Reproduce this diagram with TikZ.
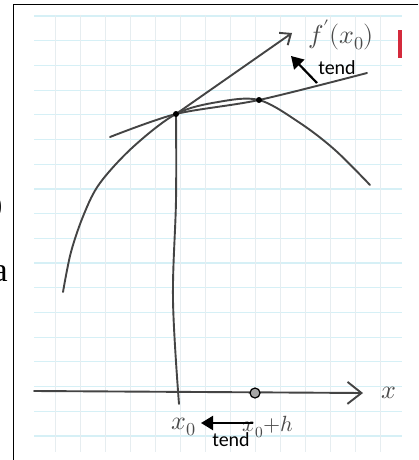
\documentclass[tikz,border=0pt]{standalone}
\usepackage{fontspec}
\usepackage{unicode-math}
\setmainfont{Liberation Serif}
\newfontfamily\tendfont{Carlito}
\usetikzlibrary{arrows.meta}
\definecolor{penc}{HTML}{444444}
\definecolor{handc}{HTML}{4A4A4A}
\definecolor{hgridc}{HTML}{D6F0F6}
\definecolor{vgridc}{HTML}{E6EDF0}
\definecolor{redmark}{HTML}{D42A3C}
\begin{document}
\begin{tikzpicture}[x=1pt,y=-1pt,
  pen/.style={draw=penc,line width=1.9pt,line cap=round,line join=round},
  hgrid/.style={draw=hgridc,line width=1.2pt},
  vgrid/.style={draw=vgridc,line width=1pt},
  hand/.style={text=handc,inner sep=0pt,font=\fontsize{26}{28}\selectfont},
  tendlbl/.style={inner sep=0pt,font=\tendfont\fontsize{20}{22}\selectfont},
  tendarrow/.style={draw=black,line width=2.2pt,-{Triangle[length=12pt,width=14pt]}},
  dot/.style={circle,fill=black,inner sep=0pt,minimum size=6pt}]
\useasboundingbox (0,0) rectangle (418,460);
\fill[white] (0,0) rectangle (418,460);
% grid paper
\foreach \i in {0,...,17} {\draw[hgrid] (34,{16+24.7*\i}) -- (402,{16+24.7*\i});}
\foreach \i in {0,...,13} {\draw[vgrid] ({55+25*\i},15) -- ({55+25*\i},452);}
% frame
\draw[black,line width=1.6pt] (13.5,4.5) -- (418,4.5);
\draw[black,line width=1.6pt] (13.5,4.5) -- (13.5,460);
% red mark at right edge
\fill[redmark] (398,30) rectangle (402,58);
% cut-off text fragments at the left
\node[anchor=east,inner sep=0pt,font=\fontsize{30}{30}\selectfont] (frag1) at (2.5,207) {)};
\node[anchor=base east,inner sep=0pt,font=\fontsize{34}{34}\selectfont] (frag2) at (8,281) {a};
% key points
\coordinate (P) at (176,114);
\coordinate (Q) at (259,100);
\coordinate (Pbot) at (179,404);
\coordinate (axL) at (34,391);
\coordinate (axR) at (363,393);
\coordinate (tanEnd) at (292,33);
% curve
\draw[pen] plot[smooth,tension=0.55] coordinates {(63,292) (71,252) (84,214) (100,183) (133,147) (P) (218,102) (Q) (300,123) (335,150) (370,185)};
% secant
\draw[pen] plot[smooth,tension=0.5] coordinates {(110,137) (P) (Q) (367,73)};
% tangent with open head
\draw[pen,-{Straight Barb[length=9pt,width=15pt]}] (P) -- (tanEnd);
% vertical line from x0
\draw[pen] plot[smooth,tension=0.6] coordinates {(P) (176,200) (173,300) (Pbot)};
% x axis
\draw[pen,-{Straight Barb[length=14pt,width=22pt]}] plot[smooth,tension=0.5] coordinates {(axL) (200,392) (axR)};
% points
\node[dot] (dP) at (P) {};
\node[dot] (dQ) at (Q) {};
\node[circle,draw=black,fill=gray!70,line width=1.2pt,inner sep=0pt,minimum size=10pt] (h) at (255,393) {};
% handwritten labels
\node[hand] (xlab) at (389,393) {$x$};
\node[hand] (x0) at (184,427) {$x_0$};
\node[hand,font=\fontsize{22}{24}\selectfont] (x0h) at (268,427) {$x_0{+}h$};
\node[hand] (fp) at (341,35) {$f'(x_0)$};
% tend arrows
\coordinate (t1s) at (317,83);
\coordinate (t1e) at (291,56);
\draw[tendarrow] (t1s) -- (t1e);
\node[tendlbl] (tend1) at (337,68) {tend};
\coordinate (t2s) at (253,423);
\coordinate (t2e) at (201,423);
\draw[tendarrow] (t2s) -- (t2e);
\node[tendlbl] (tend2) at (231,440) {tend};
\end{tikzpicture}
\end{document}
